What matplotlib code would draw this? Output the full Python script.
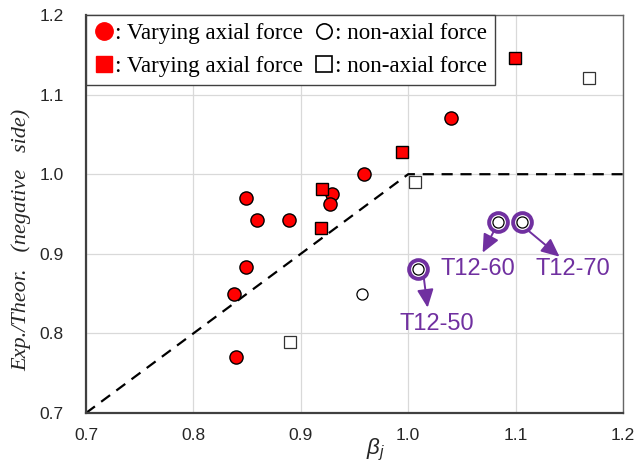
import matplotlib
matplotlib.use("Agg")
import matplotlib.pyplot as plt
from matplotlib.lines import Line2D

plt.rcParams["font.family"] = ["Liberation Sans", "DejaVu Sans"]
plt.rcParams["mathtext.fontset"] = "custom"
plt.rcParams["mathtext.it"] = "Liberation Sans:italic"
plt.rcParams["mathtext.rm"] = "Liberation Sans"

# varying axial force (filled red)
circ_var_x = [0.849, 0.859, 0.889, 0.929, 0.927, 0.959, 1.040, 0.849, 0.838, 0.840]
circ_var_y = [0.970, 0.942, 0.942, 0.975, 0.963, 1.000, 1.071, 0.884, 0.850, 0.770]
sq_var_x = [0.920, 0.919, 0.994, 1.099]
sq_var_y = [0.981, 0.932, 1.028, 1.146]

# non-axial force (open)
circ_non_x = [0.957, 1.009, 1.084, 1.106]
circ_non_y = [0.850, 0.881, 0.940, 0.940]
sq_non_x = [1.006, 1.168, 0.890]
sq_non_y = [0.990, 1.121, 0.789]

# highlighted specimens (index into circ_non)
tags = ["T12-50", "T12-60", "T12-70"]
tag_idx = [1, 2, 3]

# limit line
limit_x = [0.7, 1.0, 1.2]
limit_y = [0.7, 1.0, 1.0]

purple = "#7030A0"

fig = plt.figure(figsize=(6.35, 4.66), dpi=100)
ax = fig.add_axes([0.1354, 0.1137, 0.8457, 0.8541])

ax.plot(limit_x, limit_y, color="black", lw=1.6, ls=(0, (5, 3.5)), zorder=2, clip_on=False)

ax.plot(circ_var_x, circ_var_y, "o", ms=9.5, mfc="red", mec="black", mew=1.0, ls="none", zorder=3)
ax.plot(sq_var_x, sq_var_y, "s", ms=8.6, mfc="red", mec="black", mew=1.0, ls="none", zorder=3)
ax.plot(circ_non_x, circ_non_y, "o", ms=8, mfc="white", mec="black", mew=0.9, ls="none", zorder=3)
ax.plot(sq_non_x, sq_non_y, "s", ms=8.6, mfc="white", mec="#333333", mew=0.9, ls="none", zorder=3)

# purple rings, arrows and labels
arrow_tail = [(0.0054, -0.0096), (-0.0035, -0.0097), (0.007, -0.0122)]
arrow_head = [(0.0091, -0.0486), (-0.0147, -0.0386), (0.0349, -0.0436)]
text_off = [(0.0175, -0.0687), (-0.0193, -0.0587), (0.047, -0.0587)]
for name, i, t, h, o in zip(tags, tag_idx, arrow_tail, arrow_head, text_off):
    px, py = circ_non_x[i], circ_non_y[i]
    ax.plot(px, py, "o", ms=13.5, mfc="none", mec=purple, mew=2.8, zorder=4)
    ax.annotate("", xy=(px + h[0], py + h[1]), xytext=(px + t[0], py + t[1]),
                arrowprops=dict(arrowstyle="-|>,head_length=0.55,head_width=0.25",
                                color=purple, lw=1.4, mutation_scale=20,
                                shrinkA=0, shrinkB=0), zorder=4)
    ax.text(px + o[0], py + o[1], name, color=purple, fontsize=17,
            ha="center", va="center", zorder=5)

ax.set_xlim(0.7, 1.2)
ax.set_ylim(0.7, 1.2)
ax.set_xticks([0.7, 0.8, 0.9, 1.0, 1.1, 1.2])
ax.set_yticks([0.7, 0.8, 0.9, 1.0, 1.1, 1.2])
ax.xaxis.set_major_formatter(plt.FormatStrFormatter("%.1f"))
ax.yaxis.set_major_formatter(plt.FormatStrFormatter("%.1f"))
ax.tick_params(axis="both", length=0, labelsize=12.5, colors="#262626")
ax.tick_params(axis="x", pad=11)
ax.tick_params(axis="y", pad=16)
ax.grid(True, color="#d9d9d9", lw=0.9)
ax.set_axisbelow(True)
for side in ["top", "right"]:
    ax.spines[side].set_color("#666666")
    ax.spines[side].set_linewidth(1.0)
for side in ["left", "bottom"]:
    ax.spines[side].set_color("#404040")
    ax.spines[side].set_linewidth(1.6)

fig.text(376 / 635, 1 - 450 / 466, r"$\beta_j$", fontsize=16, ha="center", va="center", color="#262626")
fig.text(21 / 635, 1 - 240 / 466, "Exp./Theor.   (negative   side)", rotation=90,
         fontsize=16, fontstyle="italic", family=["Liberation Serif"],
         ha="center", va="center", color="#262626")

handles = [
    Line2D([], [], marker="o", ms=12.5, mfc="red", mec="red", ls="none"),
    Line2D([], [], marker="s", ms=11, mfc="red", mec="red", ls="none"),
    Line2D([], [], marker="o", ms=11, mfc="white", mec="black", mew=1.2, ls="none"),
    Line2D([], [], marker="s", ms=11, mfc="white", mec="black", mew=1.2, ls="none"),
]
labels = [": Varying axial force", ": Varying axial force", ": non-axial force", ": non-axial force"]
leg = ax.legend(handles, labels, ncol=2, loc="upper left", bbox_to_anchor=(0, 1),
                borderaxespad=0, fancybox=False, framealpha=1, edgecolor="#404040",
                handlelength=0.85, handletextpad=0.05, borderpad=0.35,
                columnspacing=0.5, labelspacing=0.5,
                prop={"family": "Liberation Serif", "size": 16.6})
leg.get_frame().set_linewidth(1.0)
leg.set_zorder(6)

fig.savefig("out.png", dpi=100)
